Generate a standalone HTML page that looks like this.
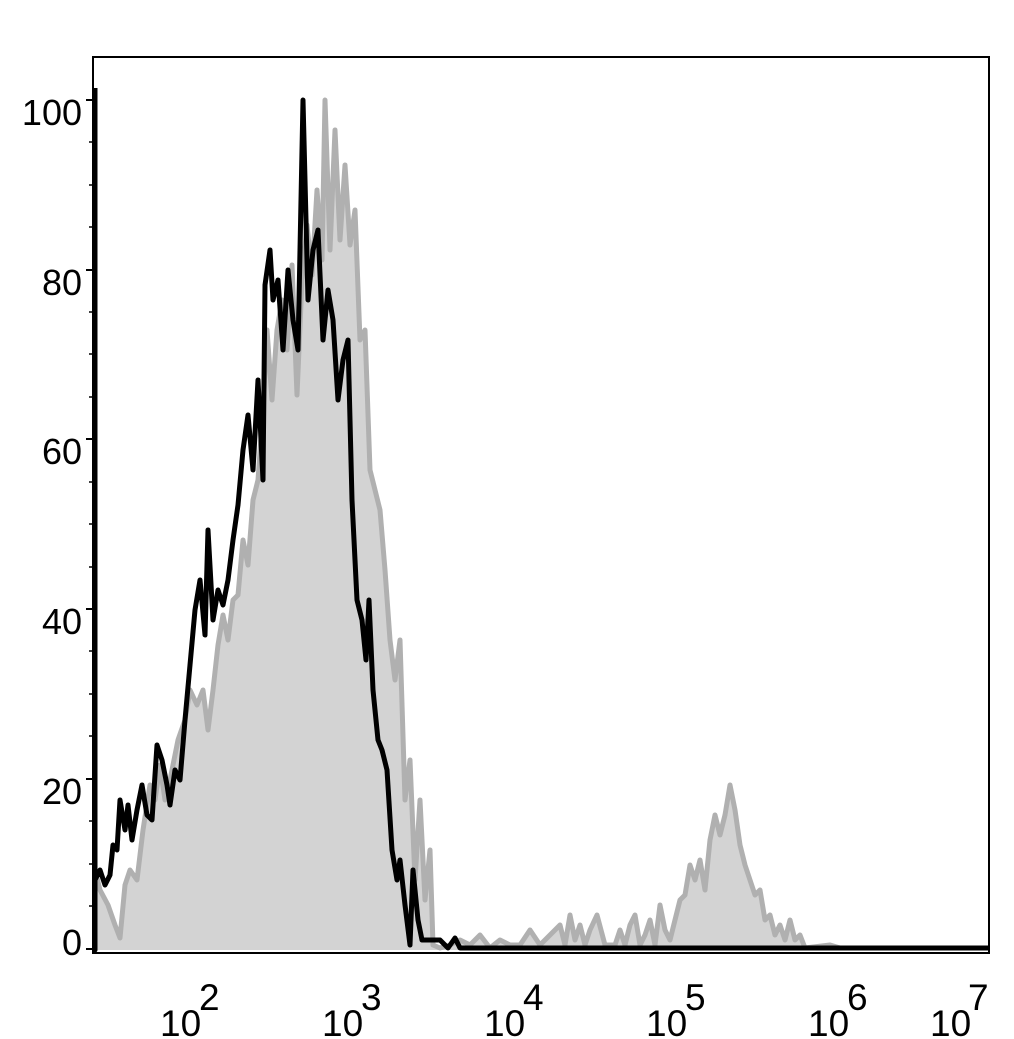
<!DOCTYPE html>
<html><head><style>body{margin:0;background:#fff}svg{display:block}text{font-family:"Liberation Sans",sans-serif;fill:#000}</style></head>
<body>
<svg width="1014" height="1039" viewBox="0 0 1014 1039">
<polygon fill="#d3d3d3" points="95,950 95,870 100,890 108,905 115,925 120,938 125,885 130,870 137,880 143,830 150,785 155,800 160,765 165,800 170,780 178,740 185,720 190,690 197,705 203,690 208,730 213,690 218,645 223,615 228,640 233,600 238,595 243,540 248,565 253,500 258,480 263,410 267,330 272,400 277,330 282,300 287,350 292,265 297,395 302,280 307,225 312,275 317,190 322,260 325,100 330,250 335,130 340,240 345,165 350,245 355,210 360,340 365,330 370,470 375,490 380,510 385,570 390,640 395,680 400,640 405,800 410,760 415,880 420,800 425,900 430,850 433,945 440,948 450,945 460,940 470,945 480,935 490,948 500,940 510,945 520,945 530,930 540,945 550,935 560,925 565,945 570,915 575,940 580,925 585,945 590,930 597,915 605,945 615,945 620,930 625,945 630,925 635,915 640,945 645,935 650,920 655,945 660,905 665,930 670,940 675,920 680,900 685,895 690,865 695,880 700,860 705,890 710,840 715,815 720,835 725,815 730,785 735,810 740,845 745,865 750,880 755,895 760,890 765,920 770,915 775,935 780,925 785,940 790,920 795,940 800,935 805,948 830,945 840,948 989,948 989,950"/>
<polyline fill="none" stroke="#b0b0b0" stroke-width="5" stroke-linejoin="round" points="95,870 100,890 108,905 115,925 120,938 125,885 130,870 137,880 143,830 150,785 155,800 160,765 165,800 170,780 178,740 185,720 190,690 197,705 203,690 208,730 213,690 218,645 223,615 228,640 233,600 238,595 243,540 248,565 253,500 258,480 263,410 267,330 272,400 277,330 282,300 287,350 292,265 297,395 302,280 307,225 312,275 317,190 322,260 325,100 330,250 335,130 340,240 345,165 350,245 355,210 360,340 365,330 370,470 375,490 380,510 385,570 390,640 395,680 400,640 405,800 410,760 415,880 420,800 425,900 430,850 433,945 440,948 450,945 460,940 470,945 480,935 490,948 500,940 510,945 520,945 530,930 540,945 550,935 560,925 565,945 570,915 575,940 580,925 585,945 590,930 597,915 605,945 615,945 620,930 625,945 630,925 635,915 640,945 645,935 650,920 655,945 660,905 665,930 670,940 675,920 680,900 685,895 690,865 695,880 700,860 705,890 710,840 715,815 720,835 725,815 730,785 735,810 740,845 745,865 750,880 755,895 760,890 765,920 770,915 775,935 780,925 785,940 790,920 795,940 800,935 805,948 830,945 840,948 989,948"/>
<polyline fill="none" stroke="#000" stroke-width="5" stroke-linejoin="round" points="95,88 95,950 95,880 100,870 105,885 110,875 113,845 117,850 120,800 125,830 128,805 132,840 137,810 142,785 147,815 152,820 157,745 162,760 167,785 170,805 175,770 180,780 185,720 190,665 195,610 200,580 205,635 208,530 213,620 218,590 223,605 228,580 233,540 238,505 243,450 248,415 253,470 258,380 263,480 265,285 270,250 273,300 278,280 283,350 288,270 293,320 298,350 303,100 308,300 313,250 318,230 323,340 328,290 333,320 338,400 343,360 348,340 352,500 357,600 362,620 366,660 369,600 373,690 378,740 382,750 387,770 392,850 397,880 400,860 405,905 410,945 413,870 418,920 422,940 440,940 448,948 455,938 460,948 989,948"/>
<rect x="93" y="57" width="896" height="896" fill="none" stroke="#000" stroke-width="2"/>
<g stroke="#000" stroke-width="2">
<line x1="86" y1="100" x2="93" y2="100"/><line x1="86" y1="270" x2="93" y2="270"/><line x1="86" y1="439" x2="93" y2="439"/><line x1="86" y1="609" x2="93" y2="609"/><line x1="86" y1="779" x2="93" y2="779"/><line x1="86" y1="949" x2="93" y2="949"/>
</g>
<g stroke="#000" stroke-width="1.5">
<line x1="89" y1="142" x2="93" y2="142"/><line x1="89" y1="185" x2="93" y2="185"/><line x1="89" y1="227" x2="93" y2="227"/>
<line x1="89" y1="312" x2="93" y2="312"/><line x1="89" y1="354" x2="93" y2="354"/><line x1="89" y1="397" x2="93" y2="397"/>
<line x1="89" y1="482" x2="93" y2="482"/><line x1="89" y1="524" x2="93" y2="524"/><line x1="89" y1="567" x2="93" y2="567"/>
<line x1="89" y1="651" x2="93" y2="651"/><line x1="89" y1="694" x2="93" y2="694"/><line x1="89" y1="736" x2="93" y2="736"/>
<line x1="89" y1="821" x2="93" y2="821"/><line x1="89" y1="864" x2="93" y2="864"/><line x1="89" y1="906" x2="93" y2="906"/>
</g>
<g id="xt"></g>
<g font-size="36" text-anchor="end">
<text x="82" y="125">100</text><text x="82" y="295">80</text><text x="82" y="464">60</text><text x="82" y="634">40</text><text x="82" y="804">20</text><text x="82" y="955">0</text>
</g>
<g font-size="37">
<text x="160" y="1036">10</text><text x="199" y="1010">2</text>
<text x="322" y="1036">10</text><text x="361" y="1010">3</text>
<text x="484" y="1036">10</text><text x="523" y="1010">4</text>
<text x="646" y="1036">10</text><text x="685" y="1010">5</text>
<text x="808" y="1036">10</text><text x="847" y="1010">6</text>
<text x="930" y="1036">10</text><text x="968" y="1010">7</text>
</g>
<script>
var g=document.getElementById('xt'),s='';
for(var d=1;d<7;d++){for(var m=1;m<10;m++){var x=178+(d-2+Math.log10(m))*162;if(x<93||x>990)continue;var L=m==1?7:4;s+='<line x1="'+x+'" y1="953" x2="'+x+'" y2="'+(953+L)+'" stroke="#000" stroke-width="'+(m==1?2.5:1.5)+'"/>';}}
s+='<line x1="988" y1="953" x2="988" y2="960" stroke="#000" stroke-width="2.5"/>';
g.innerHTML=s;
</script>
</svg>
</body></html>
